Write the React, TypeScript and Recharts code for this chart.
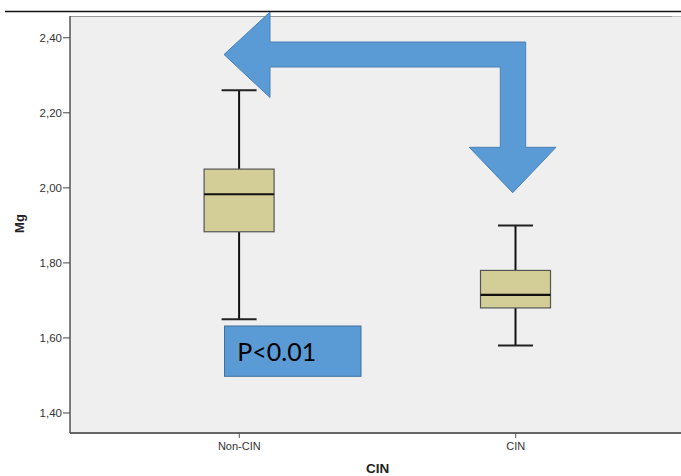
import React from 'react';
import { ComposedChart, Bar, XAxis, YAxis } from 'recharts';

const categories = ['Non-CIN', 'CIN'];
const minValues = [1.65, 1.58];
const q1Values = [1.883, 1.68];
const medianValues = [1.983, 1.715];
const q3Values = [2.05, 1.78];
const maxValues = [2.26, 1.9];
const yTicks = [1.4, 1.6, 1.8, 2.0, 2.2, 2.4];
const xTicks = [1, 2];

// the plot runs to the right edge of the picture
const xDomain = [0.3875, 2.598];
const yDomain = [1.3467, 2.458];

const data = categories.map((name, i) => ({
    x: i + 1,
    name,
    range: [minValues[i], maxValues[i]],
    min: minValues[i],
    q1: q1Values[i],
    median: medianValues[i],
    q3: q3Values[i],
    max: maxValues[i],
}));

const FONT = '"Liberation Sans", Arial, sans-serif';

// draws box + whiskers from the range bar geometry
function BoxShape(props: any) {
    const { x, y, width, height, payload } = props;
    if (!payload) return null;
    const { min, q1, median, q3, max } = payload;
    const px = (v: number) => y + ((max - v) / (max - min)) * height;
    const cx = x + width / 2;
    const half = 35;
    const cap = 17.5;
    return (
        <g>
            <line x1={cx} x2={cx} y1={px(max)} y2={px(q3)} stroke="#111" strokeWidth={2} />
            <line x1={cx} x2={cx} y1={px(q1)} y2={px(min)} stroke="#111" strokeWidth={2} />
            <line x1={cx - cap} x2={cx + cap} y1={px(max)} y2={px(max)} stroke="#222" strokeWidth={2} />
            <line x1={cx - cap} x2={cx + cap} y1={px(min)} y2={px(min)} stroke="#222" strokeWidth={2} />
            <rect
                x={cx - half}
                y={px(q3)}
                width={half * 2}
                height={px(q1) - px(q3)}
                fill="#D3CD97"
                stroke="#555"
                strokeWidth={1.2}
            />
            <line x1={cx - half} x2={cx + half} y1={px(median)} y2={px(median)} stroke="#111" strokeWidth={2.2} />
        </g>
    );
}

export default function App() {
    return (
        <div style={{ position: 'absolute', left: 0, top: 0, width: 681, height: 476, overflow: 'hidden', background: '#fff', fontFamily: FONT }}>
            {/* plot background + top frame line */}
            <div
                style={{
                    position: 'absolute',
                    left: 70,
                    top: 15.5,
                    width: 611,
                    height: 417,
                    background: '#EFEFEF',
                    borderTop: '1px solid #999',
                }}
            />
            <div style={{ position: 'absolute', left: 0, top: 0 }}>
                <ComposedChart width={681} height={476} data={data} margin={{ top: 16, right: 0, bottom: 0, left: 0 }}>
                    <XAxis
                        dataKey="x"
                        type="number"
                        domain={xDomain}
                        allowDataOverflow
                        ticks={xTicks}
                        tickFormatter={(v: number) => categories[v - 1]}
                        height={43}
                        tickSize={5}
                        tickMargin={4}
                        axisLine={{ stroke: '#666', strokeWidth: 2 }}
                        tickLine={{ stroke: '#555' }}
                        tick={{ fill: '#333', fontSize: 11, fontFamily: FONT }}
                        label={{
                            content: () => (
                                <text
                                    x={377.7}
                                    y={468.5}
                                    textAnchor="middle"
                                    dominantBaseline="central"
                                    fontSize={13.5}
                                    fontWeight="bold"
                                    fill="#222"
                                    fontFamily={FONT}
                                >
                                    CIN
                                </text>
                            ),
                        }}
                    />
                    <YAxis
                        type="number"
                        domain={yDomain}
                        allowDataOverflow
                        ticks={yTicks}
                        tickFormatter={(v: number) => v.toFixed(2).replace('.', ',')}
                        width={70}
                        tickSize={7}
                        tickMargin={1}
                        axisLine={{ stroke: '#555', strokeWidth: 1.5 }}
                        tickLine={{ stroke: '#444' }}
                        tick={{ fill: '#333', fontSize: 11.5, fontFamily: FONT }}
                        label={{
                            content: ({ viewBox }: any) => {
                                const lx = viewBox.x + 19;
                                const ly = viewBox.y + viewBox.height / 2 - 1;
                                return (
                                    <text
                                        x={lx}
                                        y={ly}
                                        transform={`rotate(-90 ${lx} ${ly})`}
                                        textAnchor="middle"
                                        dominantBaseline="central"
                                        fontSize={13}
                                        fontWeight="bold"
                                        fill="#222"
                                        fontFamily={FONT}
                                    >
                                        Mg
                                    </text>
                                );
                            },
                        }}
                    />
                    <Bar dataKey="range" barSize={70} shape={<BoxShape />} isAnimationActive={false} />
                </ComposedChart>
            </div>

            {/* annotation overlay: rule line, bent arrow, p-value box */}
            <svg width={681} height={476} style={{ position: 'absolute', left: 0, top: 0, pointerEvents: 'none' }}>
                {/* hide the stray frame edge on the cropped right side */}
                <rect x={672} y={16.5} width={9} height={415} fill="#EFEFEF" />
                <line x1={5} x2={681} y1={11.5} y2={11.5} stroke="#111" strokeWidth={1.5} />
                <polygon
                    points="224,54.5 270,12 270,42 525.7,42 525.7,147.3 556,147.3 512.7,192.7 469.3,147.3 500.3,147.3 500.3,67 270,67 270,97.5"
                    fill="#5B9BD5"
                    stroke="#4A80B5"
                    strokeWidth={1}
                />
                <rect x={224.5} y={326} width={136.5} height={50.3} fill="#5B9BD5" stroke="#41719C" strokeWidth={1} />
                <text x={237.3} y={360.7} fontSize={25} fill="#000" fontFamily="Lato, 'Open Sans', sans-serif">
                    P&lt;0.01
                </text>
            </svg>
        </div>
    );
}
